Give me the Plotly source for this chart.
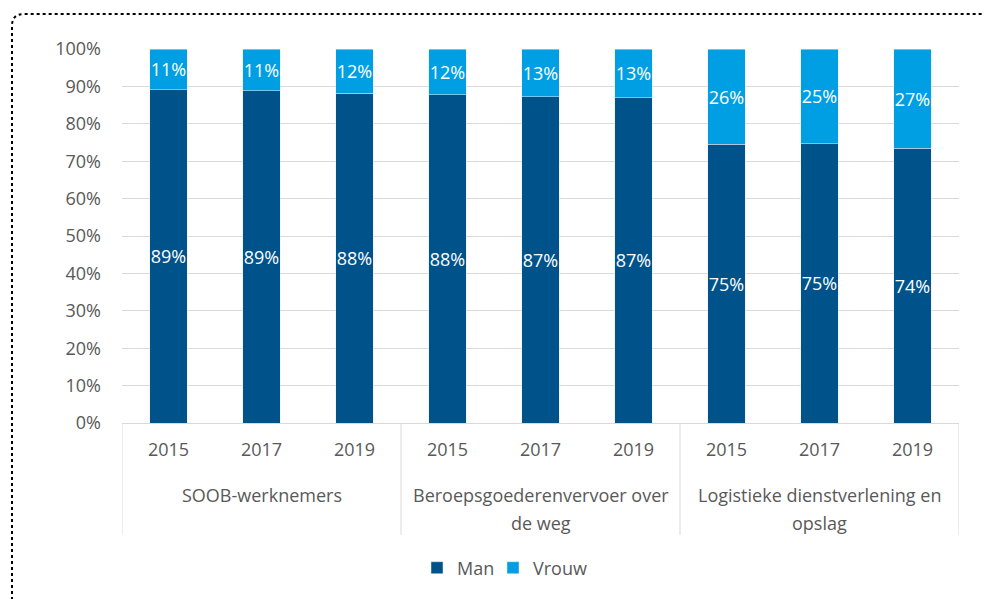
import plotly.graph_objects as go

group_names = ["SOOB-werknemers", "Beroepsgoederenvervoer over<br>de weg", "Logistieke dienstverlening en<br>opslag"]
years = ["2015", "2017", "2019"]
man = [89.1, 88.8, 88.2, 87.8, 87.3, 87.0, 74.5, 74.7, 73.5]
vrouw = [10.9, 11.2, 11.8, 12.2, 12.7, 13.0, 25.5, 25.3, 26.5]
yticks = [0, 10, 20, 30, 40, 50, 60, 70, 80, 90, 100]

OFF = 8  # page body margin
W, H = 991 - OFF, 599 - OFF
L, R, T, B = 122 - OFF, 959 - OFF, 49 - OFF, 423 - OFF

FONT = "Open Sans"
GRAY = "#595959"
LINE = "#d9d9d9"
FS = 18

xs = list(range(len(man)))
year_labels = [years[i % 3] for i in xs]

def px(x):
    return (x - OFF - L) / (R - L)

def py(y):
    return (B - (y - OFF)) / (B - T)

fig = go.Figure()
series = [("Man", man, "#00528A", "legend"), ("Vrouw", vrouw, "#009FE3", "legend2")]
for name, vals, col, lg in series:
    fig.add_trace(go.Bar(x=xs, y=vals, name=name, marker_color=col, width=0.4, legend=lg,
                         showlegend=True,
                         texttemplate="%{y:.0f}%", textposition="inside", insidetextanchor="middle",
                         textangle=0, constraintext="none", cliponaxis=False,
                         textfont=dict(color="white", size=FS, family=FONT)))

# dotted frame (top and left, rounded corner)
path = (f"M {px(12)} {py(600)} L {px(12)} {py(26)} Q {px(12)} {py(14)} {px(24)} {py(14)} "
        f"L {px(992)} {py(14)}")
fig.add_shape(type="path", path=path, xref="paper", yref="paper",
              line=dict(color="black", width=2, dash="dot"))

# group dividers and group labels
for g in range(len(group_names) + 1):
    fig.add_shape(type="line", xref="x", yref="paper", x0=g * 3 - 0.5, x1=g * 3 - 0.5,
                  y0=0, y1=py(535), line=dict(color=LINE, width=1))
for g, gname in enumerate(group_names):
    for k, line_txt in enumerate(gname.split("<br>")):
        fig.add_annotation(x=g * 3 + 1, xref="x", y=py(495 + 28 * k), yref="paper",
                           text=line_txt, showarrow=False, yanchor="middle",
                           font=dict(size=FS, color=GRAY, family=FONT))

leg_common = dict(orientation="h", xanchor="left", yanchor="middle", y=py(568),
                  font=dict(size=FS, color=GRAY), itemwidth=30, bgcolor="rgba(0,0,0,0)")

fig.update_layout(
    width=W, height=H,
    margin=dict(l=L, r=W - R, t=T, b=H - B, autoexpand=False),
    barmode="stack", showlegend=True,
    plot_bgcolor="white", paper_bgcolor="white",
    font=dict(family=FONT, color=GRAY, size=FS),
    uniformtext=dict(minsize=10, mode="show"),
    legend=dict(x=px(417), **leg_common),
    legend2=dict(x=px(493), **leg_common),
    xaxis=dict(range=[-0.5, len(man) - 0.5], tickvals=xs, ticktext=year_labels,
               showline=True, linecolor=LINE, linewidth=1, showgrid=False, zeroline=False,
               tickfont=dict(size=FS, color=GRAY), ticks="", ticklabelstandoff=10),
    yaxis=dict(range=[0, 100], tickvals=yticks, ticktext=[f"{v}%" for v in yticks],
               showgrid=True, gridcolor=LINE, gridwidth=1, zeroline=False,
               tickfont=dict(size=FS, color=GRAY), ticks="", ticklabelstandoff=20),
)
fig.write_html("out.html")
